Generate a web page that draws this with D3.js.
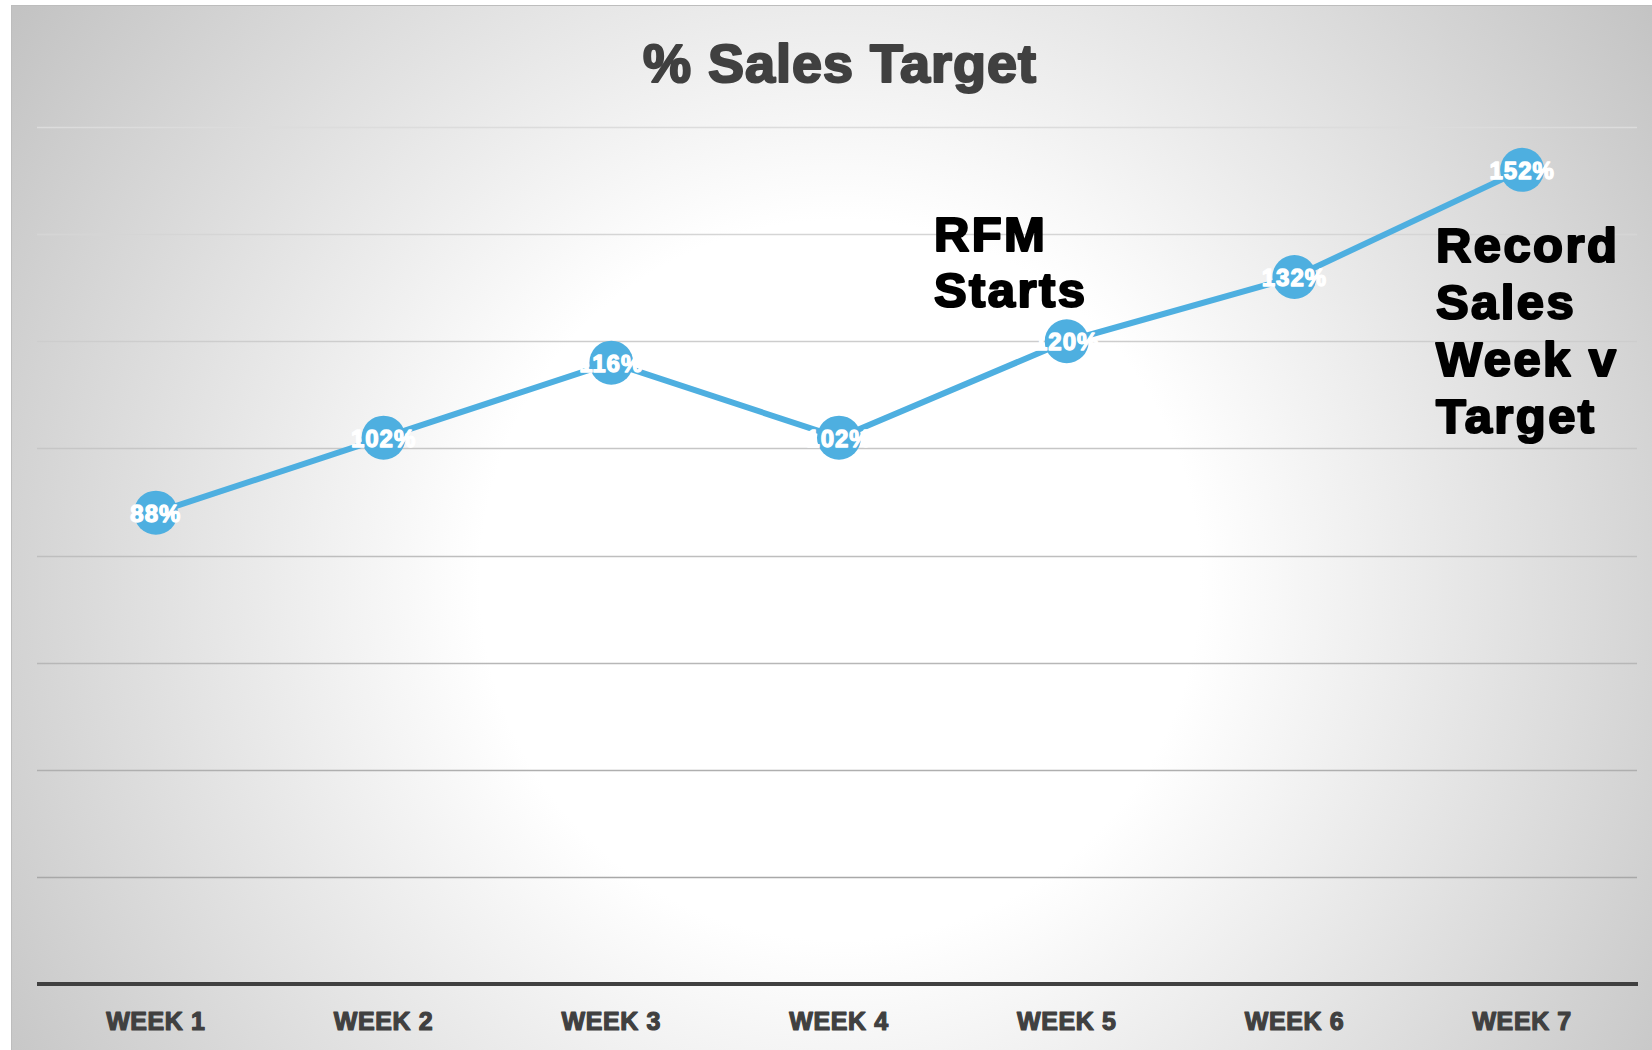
<!DOCTYPE html>
<html>
<head>
<meta charset="utf-8">
<script src="https://cdn.jsdelivr.net/npm/d3@7"></script>
<style>
  html, body { margin: 0; padding: 0; background: #fff; }
  text { font-family: "Liberation Sans", Arial, sans-serif; font-weight: bold; stroke-linejoin: round; }
  .title { fill: #404040; stroke: #404040; stroke-width: 2.2px; font-size: 54px; letter-spacing: 1px; }
  .week-label { fill: #404040; stroke: #404040; stroke-width: 1.2px; font-size: 25px; letter-spacing: 0.6px; }
  .point-label { fill: #fff; stroke: #fff; stroke-width: 1.3px; font-size: 24px; letter-spacing: 1px; }
  .note { fill: #000; stroke: #000; stroke-width: 2.2px; font-size: 49px; letter-spacing: 2.4px; }
  .sales-line { fill: none; stroke: #4eafe0; stroke-width: 6px; stroke-linejoin: round; }
  .sales-dot { fill: #4eafe0; }
  .x-axis-line { stroke: #404040; stroke-width: 4px; }
</style>
</head>
<body>
<div id="chart"></div>
<script>
// chart values
const weeks = ['WEEK 1', 'WEEK 2', 'WEEK 3', 'WEEK 4', 'WEEK 5', 'WEEK 6', 'WEEK 7'];
const salesPct = [88, 102, 116, 102, 120, 132, 152];
const yTicks = [0, 20, 40, 60, 80, 100, 120, 140, 160];
const titleText = '% Sales Target';
const noteRfm = ['RFM', 'Starts'];
const noteRecord = ['Record', 'Sales', 'Week v', 'Target'];

class SalesLine {

    constructor(container, width, height) {
        this.width = width;
        this.height = height;
        this.svg = d3.select(container).append('svg').attr('width', width).attr('height', height);

        // radial grey-to-white background like the office preset
        let defs = this.svg.append('defs');
        let grad = defs.append('radialGradient').attr('id', 'bg')
            .attr('gradientUnits', 'userSpaceOnUse')
            .attr('cx', 840).attr('cy', 580).attr('r', 1000);
        grad.append('stop').attr('offset', 0).attr('stop-color', '#ffffff');
        grad.append('stop').attr('offset', 0.36).attr('stop-color', '#ffffff');
        grad.append('stop').attr('offset', 1).attr('stop-color', '#c3c3c3');

        this.svg.append('rect').attr('x', 11.5).attr('y', 5.5)
            .attr('width', width - 11).attr('height', height - 5)
            .attr('fill', 'url(#bg)').attr('stroke', '#bdbdbd').attr('stroke-width', 1);

        this.grid = this.svg.append('g').classed('grid', true);
        this.axisX = this.svg.append('g').classed('x-axis', true);
        this.lineG = this.svg.append('g').classed('line', true);
        this.notes = this.svg.append('g').classed('notes', true);
    }

    updateScales() {
        this.scaleX = d3.scaleBand().domain(weeks).range([42, 1636]);
        this.scaleY = d3.scaleLinear().domain([0, 160]).range([984, 127]);
        return this;
    }

    drawGrid() {
        // gridlines get darker toward the bottom of the plot
        let shade = d3.scaleLinear().domain([160, 20]).range(['#dcdcdc', '#a8a8a8']);
        this.grid.selectAll('line').data(yTicks.filter(d => d > 0)).join('line')
            .attr('x1', 37).attr('x2', 1637)
            .attr('y1', d => Math.round(this.scaleY(d)) + 0.5)
            .attr('y2', d => Math.round(this.scaleY(d)) + 0.5)
            .attr('stroke', d => shade(d)).attr('stroke-width', 1.5);

        this.axisX.append('line').classed('x-axis-line', true)
            .attr('x1', 37).attr('x2', 1638)
            .attr('y1', this.scaleY(0)).attr('y2', this.scaleY(0));
        this.axisX.selectAll('.week-label').data(weeks).join('text').classed('week-label', true)
            .attr('x', d => this.scaleX(d) + this.scaleX.bandwidth() / 2)
            .attr('y', 1030).attr('text-anchor', 'middle').text(d => d);
        return this;
    }

    plotLine() {
        let data = weeks.map((w, i) => ({ week: w, value: salesPct[i] }));
        let cx = d => this.scaleX(d.week) + this.scaleX.bandwidth() / 2;
        let line = d3.line().x(cx).y(d => this.scaleY(d.value));

        this.lineG.append('path').datum(data).classed('sales-line', true).attr('d', line);
        this.lineG.selectAll('circle').data(data).join('circle').classed('sales-dot', true)
            .attr('cx', cx).attr('cy', d => this.scaleY(d.value)).attr('r', 22);
        this.lineG.selectAll('.point-label').data(data).join('text').classed('point-label', true)
            .attr('x', cx).attr('y', d => this.scaleY(d.value) + 9)
            .attr('text-anchor', 'middle').text(d => d.value + '%');
        return this;
    }

    addText() {
        this.svg.append('text').classed('title', true)
            .attr('x', 840).attr('y', 82).attr('text-anchor', 'middle').text(titleText);

        this.notes.selectAll('.rfm').data(noteRfm).join('text').classed('note rfm', true)
            .attr('x', 934).attr('y', (d, i) => 251 + i * 56).text(d => d);
        this.notes.selectAll('.record').data(noteRecord).join('text').classed('note record', true)
            .attr('x', 1436).attr('y', (d, i) => 262 + i * 57).text(d => d);
        return this;
    }

    render() {
        this.updateScales();
        this.drawGrid();
        this.plotLine();
        this.addText();
        return this;
    }
}

new SalesLine('#chart', 1652, 1050).render();
</script>
</body>
</html>
